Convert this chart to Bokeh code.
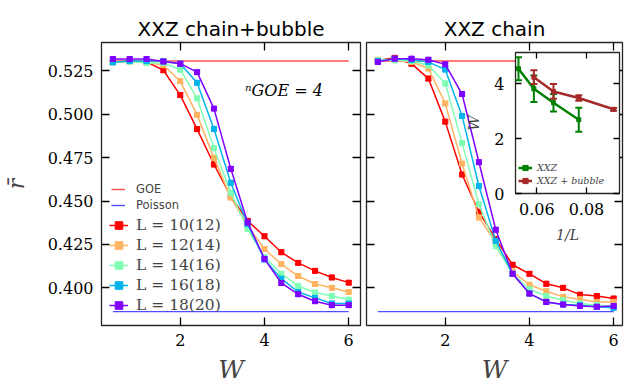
from bokeh.plotting import figure
from bokeh.models import (ColumnDataSource, Legend, LegendItem, LinearAxis, Range1d,
                          FixedTicker, Label, NumeralTickFormatter)
from bokeh.layouts import row
from bokeh.embed import file_html
from bokeh.resources import INLINE

# ---------------- data ----------------
W = [0.4, 0.8, 1.2, 1.6, 2.0, 2.4, 2.8, 3.2, 3.6, 4.0, 4.4, 4.8, 5.2, 5.6, 6.0]
series_labels = ["L = 10(12)", "L = 12(14)", "L = 14(16)", "L = 16(18)", "L = 18(20)"]

# XXZ chain + bubble (left panel)
bubble_L10 = [0.5300, 0.5307, 0.5302, 0.5254, 0.5111, 0.4915, 0.4711, 0.4529, 0.4386, 0.4297, 0.4205, 0.4144, 0.4098, 0.4060, 0.4030]
bubble_L12 = [0.5300, 0.5304, 0.5300, 0.5283, 0.5191, 0.4997, 0.4749, 0.4520, 0.4358, 0.4224, 0.4137, 0.4068, 0.4022, 0.4000, 0.3976]
bubble_L14 = [0.5300, 0.5304, 0.5296, 0.5296, 0.5258, 0.5092, 0.4806, 0.4548, 0.4339, 0.4177, 0.4081, 0.4011, 0.3973, 0.3953, 0.3932]
bubble_L16 = [0.5300, 0.5307, 0.5307, 0.5307, 0.5292, 0.5182, 0.4915, 0.4606, 0.4367, 0.4163, 0.4053, 0.3976, 0.3942, 0.3910, 0.3910]
bubble_L18 = [0.5319, 0.5319, 0.5319, 0.5304, 0.5292, 0.5243, 0.5033, 0.4686, 0.4377, 0.4167, 0.4028, 0.3963, 0.3923, 0.3900, 0.3900]

# XXZ chain (right panel)
chain_L10 = [0.5311, 0.5326, 0.5292, 0.5206, 0.4958, 0.4653, 0.4438, 0.4281, 0.4133, 0.4081, 0.4024, 0.4000, 0.3961, 0.3953, 0.3938]
chain_L12 = [0.5315, 0.5315, 0.5302, 0.5264, 0.5063, 0.4716, 0.4406, 0.4259, 0.4094, 0.4018, 0.3980, 0.3948, 0.3934, 0.3919, 0.3919]
chain_L14 = [0.5311, 0.5311, 0.5307, 0.5283, 0.5178, 0.4834, 0.4482, 0.4240, 0.4081, 0.3992, 0.3953, 0.3929, 0.3910, 0.3900, 0.3896]
chain_L16 = [0.5307, 0.5321, 0.5315, 0.5302, 0.5258, 0.4991, 0.4587, 0.4272, 0.4081, 0.3967, 0.3919, 0.3904, 0.3900, 0.3891, 0.3885]
chain_L18 = [0.5302, 0.5321, 0.5321, 0.5315, 0.5288, 0.5117, 0.4724, 0.4335, 0.4081, 0.3967, 0.3919, 0.3904, 0.3896, 0.3891, 0.3896]

r_err = 0.0012          # size of the error bars on r
GOE_r = 0.5307
Poisson_r = 0.3863

x_ticks = [2, 4, 6]
y_ticks = [0.400, 0.425, 0.450, 0.475, 0.500, 0.525]

# inset: critical W versus 1/L
inv_L_xxz = [0.0526, 0.0588, 0.0667, 0.0769]
Wc_xxz = [4.55, 3.82, 3.31, 2.69]
Wc_xxz_err = [0.42, 0.48, 0.32, 0.44]
inv_L_bubble = [0.0588, 0.0667, 0.0769, 0.0909]
Wc_bubble = [4.24, 3.72, 3.48, 3.07]
Wc_bubble_err = [0.25, 0.27, 0.10, 0.05]
inset_x_ticks = [0.06, 0.08]
inset_y_ticks = [0, 2, 4]

# ---------------- styling ----------------
colors = ["#ff0000", "#ffb462", "#80ffb4", "#00b4eb", "#8000ff"]
SERIF = "DejaVu Serif"
SANS = "DejaVu Sans"
FRAME_COLOR = "#262626"
TOP_BORDER = 42
BOTTOM_BORDER = 59


def style_axis(ax, ticks, labels=True, tick_len=8, fmt=None, font_size="16px", standoff=8):
    ax.ticker = FixedTicker(ticks=ticks)
    ax.major_tick_in = tick_len
    ax.major_tick_out = 0
    ax.minor_tick_in = 0
    ax.minor_tick_out = 0
    ax.axis_line_color = None
    ax.major_tick_line_color = "black"
    ax.major_tick_line_width = 1.3
    ax.major_label_text_font = SERIF
    ax.major_label_text_color = "black"
    if fmt is not None:
        ax.formatter = NumeralTickFormatter(format=fmt)
    if labels:
        ax.major_label_text_font_size = font_size
        ax.major_label_standoff = standoff
    else:
        # mirror axis: ticks only, no labels drawn
        ax.major_label_text_font_size = "1px"
        ax.major_label_text_alpha = 0
        ax.major_label_standoff = 0


def make_panel(title, ys, xr, width, mb_left, mb_right, show_ylabels):
    p = figure(width=width, height=386, x_range=Range1d(*xr), y_range=Range1d(0.3783, 0.5414),
               toolbar_location=None, output_backend="svg",
               min_border_left=mb_left, min_border_right=mb_right,
               min_border_top=TOP_BORDER, min_border_bottom=BOTTOM_BORDER)
    p.grid.visible = False
    p.outline_line_color = FRAME_COLOR
    p.outline_line_width = 1.3
    p.background_fill_color = "white"
    p.border_fill_color = "white"

    p.title.text = title
    p.title.align = "center"
    p.title.text_font = SANS
    p.title.text_font_size = "20px"
    p.title.text_font_style = "normal"
    p.title.text_color = "black"
    p.title.standoff = 4

    xa = p.xaxis[0]
    style_axis(xa, x_ticks)
    xa.axis_label = "W"
    xa.axis_label_text_font = SERIF
    xa.axis_label_text_font_style = "italic"
    xa.axis_label_text_font_size = "25px"
    xa.axis_label_standoff = 6

    ya = p.yaxis[0]
    style_axis(ya, y_ticks, labels=show_ylabels, fmt="0.000")
    if show_ylabels:
        ya.axis_label = "r\u0304"
        ya.axis_label_text_font = SERIF
        ya.axis_label_text_font_style = "italic"
        ya.axis_label_text_font_size = "22px"
        ya.axis_label_standoff = 16

    top = LinearAxis()
    style_axis(top, x_ticks, labels=False)
    p.add_layout(top, "above")
    right = LinearAxis()
    style_axis(right, y_ticks, labels=False)
    p.add_layout(right, "right")

    goe = p.line(x=[W[0], W[-1]], y=[GOE_r, GOE_r], line_color="#ff3b3b", line_width=1.4, line_alpha=0.9)
    poi = p.line(x=[W[0], W[-1]], y=[Poisson_r, Poisson_r], line_color="#3b3bff", line_width=1.4, line_alpha=0.9)

    items = []
    for y, c, lab in zip(ys, colors, series_labels):
        src = ColumnDataSource(dict(x=W, y=y, lo=[v - r_err for v in y], hi=[v + r_err for v in y]))
        p.segment(x0="x", y0="lo", x1="x", y1="hi", source=src, line_color=c, line_width=1.3)
        p.scatter("x", "lo", source=src, marker="dash", size=6, line_color=c, line_width=1.3)
        p.scatter("x", "hi", source=src, marker="dash", size=6, line_color=c, line_width=1.3)
        ln = p.line("x", "y", source=src, line_color=c, line_width=1.5)
        sq = p.scatter("x", "y", source=src, marker="square", size=5, fill_color=c, line_color=c)
        items.append(LegendItem(label=lab, renderers=[ln, sq]))
    return p, goe, poi, items


left, goe, poi, items = make_panel("XXZ chain+bubble",
                                   [bubble_L10, bubble_L12, bubble_L14, bubble_L16, bubble_L18],
                                   (0.13, 6.28), 363, 100, 3, True)

legA = Legend(items=[LegendItem(label="GOE", renderers=[goe]), LegendItem(label="Poisson", renderers=[poi])],
              location=(10, 112), padding=0, spacing=0, glyph_width=14, glyph_height=16,
              label_height=16, label_standoff=11, label_text_font=SANS, label_text_font_size="11.5px",
              background_fill_alpha=0, border_line_alpha=0, margin=0)
legB = Legend(items=items, location=(8, 10), padding=0, spacing=0, glyph_width=19, glyph_height=20,
              label_height=20, label_standoff=8, label_text_font=SERIF, label_text_font_size="15.5px",
              background_fill_alpha=0, border_line_alpha=0, margin=0)
left.add_layout(legA)
left.add_layout(legB)

left.add_layout(Label(x=3.54, y=0.514, text="\u207fGOE = 4", text_font=SERIF, text_font_style="italic",
                      text_font_size="16px", text_baseline="middle", text_color="black"))

right, _, _, _ = make_panel("XXZ chain",
                            [chain_L10, chain_L12, chain_L14, chain_L16, chain_L18],
                            (0.13, 6.21), 261, 3, 2, False)

# ---------------- inset ----------------
# plots in one row share top/bottom borders, so the inset uses the same ones
inset = figure(title=None, frame_width=104, frame_height=141,
               x_range=Range1d(0.0514, 0.0933), y_range=Range1d(0, 5.14),
               toolbar_location=None, output_backend="svg",
               min_border_left=58, min_border_right=3,
               min_border_top=TOP_BORDER, min_border_bottom=BOTTOM_BORDER,
               styles={"position": "absolute", "left": "457px", "top": "10px", "z-index": "10"})
inset.grid.visible = False
inset.border_fill_color = None
inset.background_fill_color = "white"
inset.outline_line_color = FRAME_COLOR
inset.outline_line_width = 1.3

ix = inset.xaxis[0]
style_axis(ix, inset_x_ticks, tick_len=6, fmt="0.00", standoff=9)
ix.axis_label = "1/L"
ix.axis_label_text_font = SERIF
ix.axis_label_text_font_style = "italic"
ix.axis_label_text_font_size = "14px"
ix.axis_label_standoff = 9
iy = inset.yaxis[0]
style_axis(iy, inset_y_ticks, tick_len=6, fmt="0", standoff=11)
iy.axis_label = "W"
iy.axis_label_text_font = SERIF
iy.axis_label_text_font_style = "italic"
iy.axis_label_text_font_size = "15px"
iy.axis_label_standoff = 8
it = LinearAxis()
style_axis(it, inset_x_ticks, labels=False, tick_len=6)
inset.add_layout(it, "above")
ir = LinearAxis()
style_axis(ir, inset_y_ticks, labels=False, tick_len=6)
inset.add_layout(ir, "right")

inset_items = []
for xs, ys, es, c, lab in [(inv_L_xxz, Wc_xxz, Wc_xxz_err, "green", "XXZ"),
                           (inv_L_bubble, Wc_bubble, Wc_bubble_err, "brown", "XXZ + bubble")]:
    src = ColumnDataSource(dict(x=xs, y=ys, lo=[a - b for a, b in zip(ys, es)], hi=[a + b for a, b in zip(ys, es)]))
    inset.segment(x0="x", y0="lo", x1="x", y1="hi", source=src, line_color=c, line_width=2)
    inset.scatter("x", "lo", source=src, marker="dash", size=7, line_color=c, line_width=2)
    inset.scatter("x", "hi", source=src, marker="dash", size=7, line_color=c, line_width=2)
    ln = inset.line("x", "y", source=src, line_color=c, line_width=2.5)
    sq = inset.scatter("x", "y", source=src, marker="square", size=4, fill_color=c, line_color=c)
    inset_items.append(LegendItem(label=lab, renderers=[ln, sq]))

legI = Legend(items=inset_items, location=(3, 6), padding=0, spacing=0, glyph_width=14, glyph_height=13,
              label_height=13, label_standoff=5, label_text_font=SERIF, label_text_font_style="italic",
              label_text_font_size="9.5px", background_fill_alpha=0, border_line_alpha=0, margin=0)
inset.add_layout(legI)

layout = row(left, right, inset, styles={"position": "relative"})

with open("out.html", "w") as f:
    f.write(file_html(layout, INLINE))
